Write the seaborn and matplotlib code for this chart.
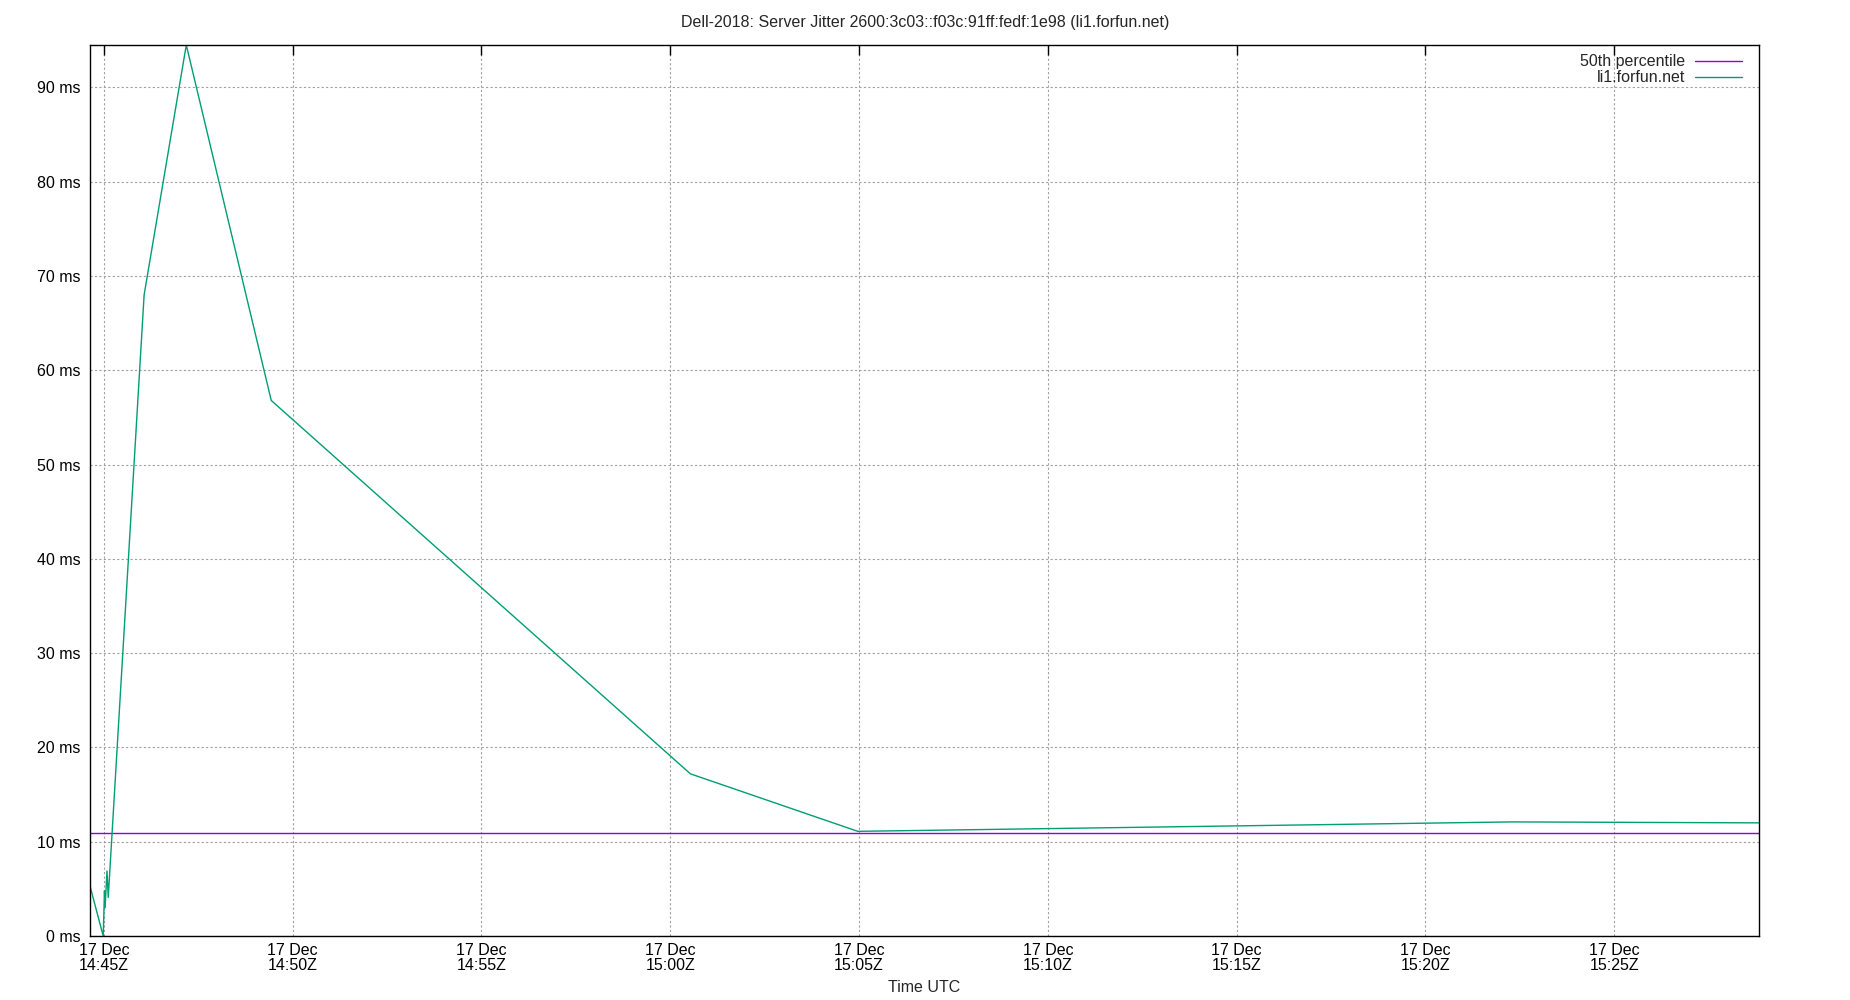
import matplotlib
matplotlib.use('Agg')
import matplotlib.pyplot as plt
import matplotlib.dates as mdates
import seaborn as sns
import pandas as pd

# series
DAY = '2018-12-17'
JITTER_TIMES = ['14:44:38', '14:44:59', '14:45:01', '14:45:02', '14:45:05',
                '14:45:07', '14:46:04', '14:47:11', '14:49:26', '15:00:32',
                '15:04:58', '15:22:18', '15:28:50']
JITTER_MS = [5.3, 0.0, 4.8, 3.0, 6.9, 4.1, 68.0, 94.5, 56.8, 17.2, 11.1, 12.1, 12.0]
P50_MS = 10.95
YTICKS = [0, 10, 20, 30, 40, 50, 60, 70, 80, 90]
TITLE = 'Dell-2018: Server Jitter 2600:3c03::f03c:91ff:fedf:1e98 (li1.forfun.net)'
SERIES = ['50th percentile', 'li1.forfun.net']
COLORS = ['#9400d3', '#009e73']

FS = 11.5

sns.set_style('white')
plt.rcParams['font.family'] = ['Liberation Sans', 'DejaVu Sans']
plt.rcParams['font.size'] = FS

times = pd.to_datetime([f'{DAY} {t}' for t in JITTER_TIMES])
jitter = pd.DataFrame({'time': times, 'ms': JITTER_MS})
p50 = pd.DataFrame({'time': [times[0], times[-1]], 'ms': [P50_MS, P50_MS]})

fig = plt.figure(figsize=(18.5, 10), dpi=100)
ax = fig.add_axes([90 / 1850, 64 / 1000, 1669 / 1850, 891 / 1000])

sns.lineplot(data=p50, x='time', y='ms', ax=ax, color=COLORS[0],
             linewidth=1, legend=False)
sns.lineplot(data=jitter, x='time', y='ms', ax=ax, color=COLORS[1],
             linewidth=1, legend=False)

ax.set_xlim(times[0], times[-1])
ax.set_ylim(0, 94.5)
ax.set_yticks(YTICKS)
ax.set_yticklabels([f'{v} ms' for v in YTICKS])
ax.xaxis.set_major_locator(mdates.MinuteLocator(byminute=range(0, 60, 5)))
ax.xaxis.set_major_formatter(mdates.DateFormatter('%d %b\n%H:%MZ'))

ax.tick_params(direction='in', length=7, width=1, top=True, right=False,
               colors='black', labelsize=FS)
ax.tick_params(axis='x', pad=5)
ax.tick_params(axis='y', pad=7)
for lbl in ax.get_xticklabels():
    lbl.set_linespacing(1.0)
for s in ax.spines.values():
    s.set_color('black')
    s.set_linewidth(1)

ax.grid(True, color='#a0a0a0', linestyle=(0, (2, 2)), linewidth=0.8)
ax.set_axisbelow(True)

ax.set_xlabel('Time UTC', fontsize=FS, labelpad=5)
ax.set_ylabel('')
fig.suptitle(TITLE, y=0.985, fontsize=FS)

# gnuplot-style key: right-aligned labels followed by a line sample
for i, (name, col) in enumerate(zip(SERIES, COLORS)):
    yk = 0.982 - i * 0.018
    ax.text(0.956, yk, name, transform=ax.transAxes, ha='right',
            va='center', fontsize=FS)
    ax.plot([0.9617, 0.9898], [yk, yk], transform=ax.transAxes,
            color=col, linewidth=1)

fig.savefig('out.png', dpi=100)
